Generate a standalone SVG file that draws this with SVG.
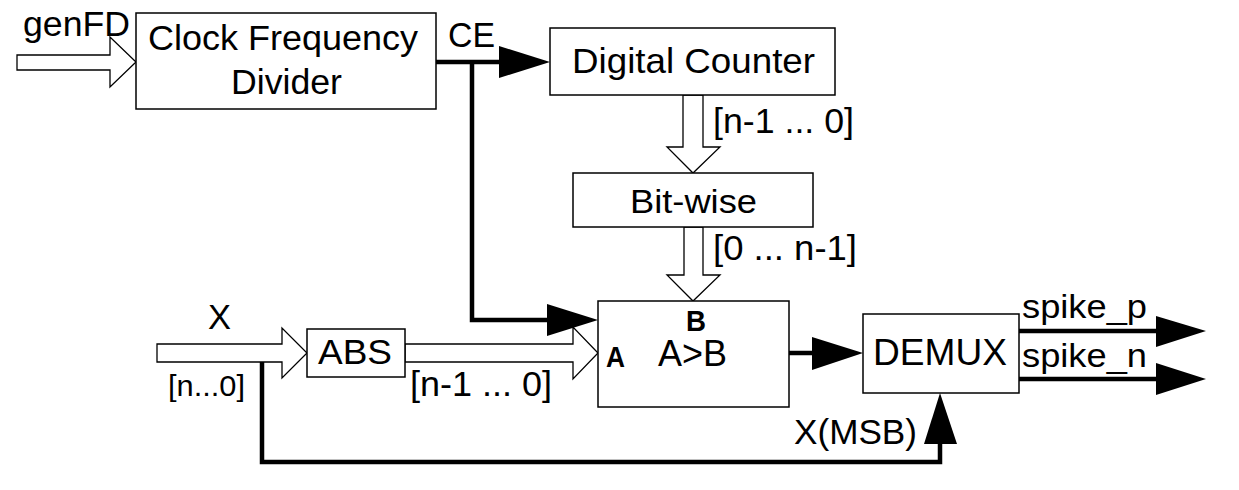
<svg xmlns="http://www.w3.org/2000/svg" width="1239" height="490" viewBox="0 0 1239 490">
<style>
.box{fill:#fff;stroke:#000;stroke-width:1.5}
.hollow{fill:#fff;stroke:#000;stroke-width:1.3;stroke-linejoin:miter}
.wire{fill:none;stroke:#000;stroke-width:4.5}
.head{fill:#000;stroke:none}
text{font-family:"Liberation Sans",Arial,sans-serif;fill:#000}
.b{font-weight:bold}
</style>
<rect width="1239" height="490" fill="#fff"/>
<g id="connectors">
<polygon class="hollow" points="17,55 110,55 110,37 136,62 110,87 110,70 17,70"/>
<polygon class="hollow" points="683,95 703,95 703,147 720,147 693,173 667,147 683,147"/>
<polygon class="hollow" points="684,227 703,227 703,275 720,275 693,301 667,275 684,275"/>
<polygon class="hollow" points="157,344 282,344 282,328 307,353 282,378 282,362 157,362"/>
<polygon class="hollow" points="405,344 573,344 573,327 598,353 573,379 573,362 405,362"/>
<polyline class="wire" points="436,62 502,62"/>
<polygon class="head" points="499,46 550,62 499,78"/>
<polyline class="wire" points="472,62 472,320 550,320"/>
<polygon class="head" points="547,304 598,320 547,336"/>
<polyline class="wire" points="262,362 262,462 940,462 940,441"/>
<polygon class="head" points="924,444 940,393 957,444"/>
<polyline class="wire" points="789,353 815,353"/>
<polygon class="head" points="812,337 863,353 812,370"/>
<polyline class="wire" points="1019,331 1159,331"/>
<polygon class="head" points="1156,316 1206,331 1156,347"/>
<polyline class="wire" points="1019,379 1159,379"/>
<polygon class="head" points="1156,363 1206,379 1156,395"/>
</g>
<g id="labels">
<text x="23" y="36" font-size="35" textLength="107" lengthAdjust="spacingAndGlyphs">genFD</text>
<text x="448" y="47" font-size="35" textLength="47" lengthAdjust="spacingAndGlyphs">CE</text>
<text x="713" y="133" font-size="35" textLength="141" lengthAdjust="spacingAndGlyphs">[n-1 ... 0]</text>
<text x="713" y="260" font-size="35" textLength="144" lengthAdjust="spacingAndGlyphs">[0 ... n-1]</text>
<text x="208" y="329" font-size="35" textLength="23" lengthAdjust="spacingAndGlyphs">X</text>
<text x="168" y="396" font-size="30" textLength="77" lengthAdjust="spacingAndGlyphs">[n...0]</text>
<text x="410" y="396" font-size="35" textLength="142" lengthAdjust="spacingAndGlyphs">[n-1 ... 0]</text>
<text x="1022" y="318" font-size="34" textLength="125" lengthAdjust="spacingAndGlyphs">spike_p</text>
<text x="1022" y="367" font-size="34" textLength="125" lengthAdjust="spacingAndGlyphs">spike_n</text>
<text x="794" y="444" font-size="35" textLength="123" lengthAdjust="spacingAndGlyphs">X(MSB)</text>
</g>
<g id="clock-divider">
<rect class="box" x="136" y="13" width="300" height="96"/>
<text x="148" y="50" font-size="35" textLength="270" lengthAdjust="spacingAndGlyphs">Clock Frequency</text>
<text x="231" y="94" font-size="35" textLength="111" lengthAdjust="spacingAndGlyphs">Divider</text>
</g>
<g id="digital-counter">
<rect class="box" x="550" y="28" width="285" height="67"/>
<text x="572" y="73" font-size="35" textLength="243" lengthAdjust="spacingAndGlyphs">Digital Counter</text>
</g>
<g id="bit-wise">
<rect class="box" x="573" y="173" width="240" height="54"/>
<text x="630" y="213" font-size="34" textLength="127" lengthAdjust="spacingAndGlyphs">Bit-wise</text>
</g>
<g id="abs">
<rect class="box" x="307" y="329" width="98" height="48"/>
<text x="318" y="364" font-size="35" textLength="74" lengthAdjust="spacingAndGlyphs">ABS</text>
</g>
<g id="comparator">
<rect class="box" x="598" y="301" width="191" height="106"/>
<text class="b" x="686" y="331" font-size="29" textLength="20" lengthAdjust="spacingAndGlyphs">B</text>
<text x="658" y="366" font-size="36" textLength="69" lengthAdjust="spacingAndGlyphs">A&gt;B</text>
<text class="b" x="606" y="367" font-size="29" textLength="19" lengthAdjust="spacingAndGlyphs">A</text>
</g>
<g id="demux">
<rect class="box" x="863" y="314" width="156" height="79"/>
<text x="873" y="365" font-size="36" textLength="134" lengthAdjust="spacingAndGlyphs">DEMUX</text>
</g>
</svg>
